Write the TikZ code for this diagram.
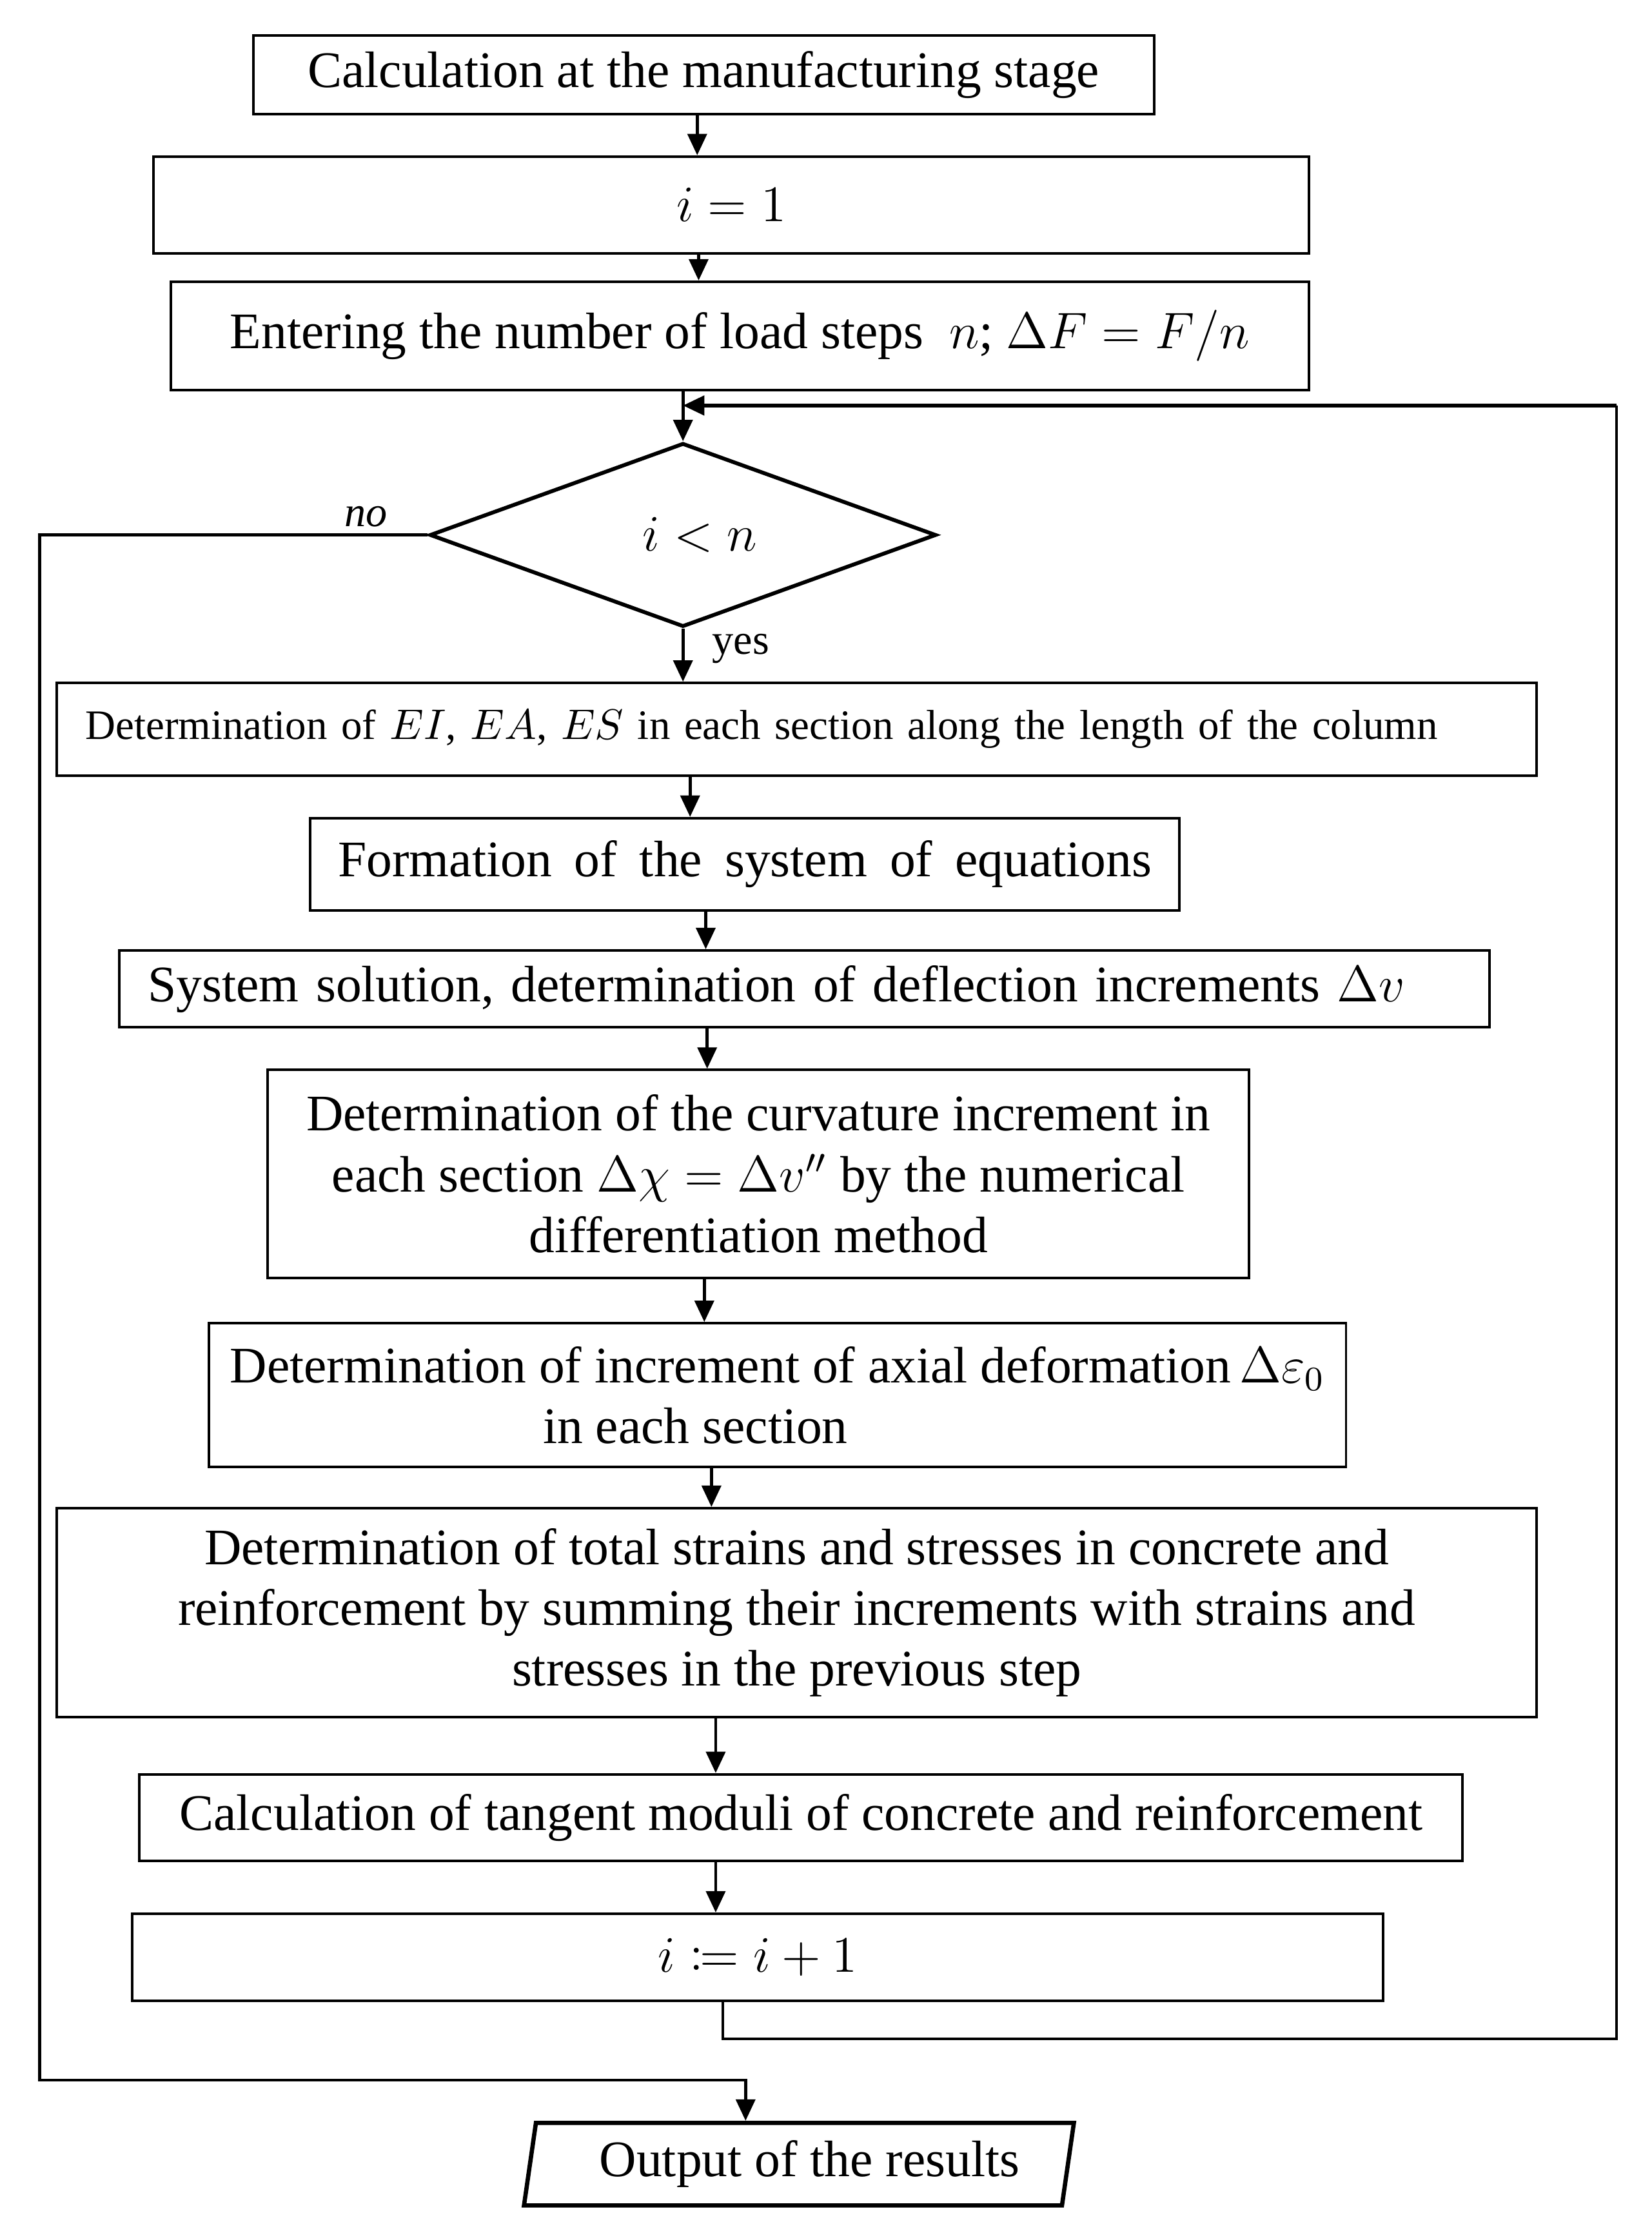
\documentclass[tikz,border=0pt]{standalone}
\usepackage{amsmath,mathtools}
\usepackage{fontspec}
\setmainfont{Liberation Serif}
\usepackage{tikz}
\usetikzlibrary{arrows.meta,shapes.geometric}
\newlength\pxu
\setlength\pxu{0.333pt}
\tikzset{
  box/.style={draw,line width=0.6pt,align=center,inner sep=0pt,font=\fontsize{12}{14.2}\selectfont},
  dec/.style={diamond,draw,line width=0.9pt,inner sep=0pt,font=\fontsize{12}{14}\selectfont},
  io/.style={trapezium,trapezium left angle=78,trapezium right angle=102,trapezium stretches=true,draw,line width=1pt,inner sep=0pt,font=\fontsize{12}{14}\selectfont},
  ar/.style={-{Triangle[length=5pt,width=4.5pt]},line width=0.7pt},
  ln/.style={line width=0.6pt},
  lbl/.style={font=\fontsize{10}{12}\selectfont,inner sep=1.5pt}
}
\begin{document}
\begin{tikzpicture}[x=\pxu,y=-\pxu]
\useasboundingbox (0,0) rectangle (1161,1568);
\node[box,minimum width=633\pxu,minimum height=55\pxu] (calc) at (494.5,52.5) {Calculation at the manufacturing stage};
\node[box,minimum width=812\pxu,minimum height=68\pxu] (init) at (514,144) {$i = 1$};
\node[box,minimum width=800\pxu,minimum height=76\pxu] (steps) at (520,236) {Entering the number of load steps~ $n$; $\Delta F = F/n$};
\node[dec,minimum width=356\pxu,minimum height=128\pxu] (cond) at (480,376) {\hspace*{24\pxu}$i < n$};
\node[box,font=\fontsize{9.8}{12}\selectfont,align=left,text width=1000\pxu,inner xsep=20\pxu,minimum height=65\pxu] (stiff) at (560,512.5) {Determination of $EI$,\ $EA$,\ $ES$ in each section along the length of the column};
\node[box,minimum width=611\pxu,minimum height=65\pxu] (eqs) at (523.5,607.5) {\spaceskip=.44em Formation of the system of equations};
\node[box,align=left,text width=923\pxu,inner xsep=20\pxu,minimum height=54\pxu] (solve) at (565.5,695) {System solution, determination of deflection increments $\Delta v$};
\node[box,minimum width=690\pxu,minimum height=146\pxu] (curv) at (533,825) {Determination of the curvature increment in\\ each section $\Delta\chi = \Delta v''$ by the numerical\\ differentiation method};
\node[box,align=left,minimum width=799\pxu,minimum height=101\pxu] (axial) at (546.5,980.5) {Determination of increment of axial deformation\,$\Delta\varepsilon_0$\\ \hspace*{220\pxu}in each section};
\node[box,minimum width=1040\pxu,minimum height=147\pxu] (total) at (560,1133.5) {Determination of total strains and stresses in concrete and\\ reinforcement by summing their increments with strains and\\ stresses in the previous step};
\node[box,minimum width=930\pxu,minimum height=61\pxu] (tang) at (563,1277.5) {Calculation of tangent moduli of concrete and reinforcement};
\node[box,minimum width=879\pxu,minimum height=61\pxu] (incr) at (532.5,1375.5) {$i \coloneqq i + 1$};
\node[io,minimum width=387\pxu,minimum height=58\pxu] (out) at (561.5,1521) {\hspace*{15\pxu}Output of the results};
\foreach \a/\b/\xx in {calc/init/490,init/steps/491,steps/cond/480,stiff/eqs/485,eqs/solve/496,solve/curv/497,curv/axial/495,axial/total/500,total/tang/503,tang/incr/503}
  \draw[ar] (\a.south -| \xx,0) -- (\b.north -| \xx,0);
\draw[ar] (cond.south) -- (stiff.north -| cond.south) node[lbl,right=5pt,pos=0.375] {yes};
\coordinate (noL) at (28,1462);
\draw[ar] (cond.west) -| (noL) node[lbl,above,pos=0.08] {\textit{no}} -| (out.north -| 524,0);
\coordinate (back) at (1136,1433);
\coordinate (top) at (1136,285);
\draw[ln] (incr.south -| 508,0) |- (back) -- (top);
\draw[ar,line width=0.9pt] (top) -- (cond.north |- top);
\end{tikzpicture}
\end{document}
